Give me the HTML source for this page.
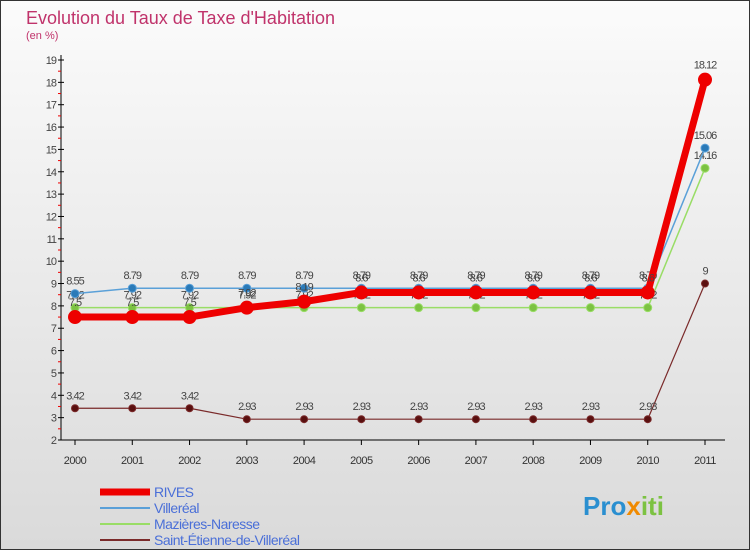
<!DOCTYPE html>
<html><head><meta charset="utf-8"><style>
body{margin:0;background:#fff}
svg{display:block;font-family:"Liberation Sans",sans-serif}
</style></head><body>
<svg width="750" height="550">
<defs><linearGradient id="bg" x1="0" y1="0" x2="0" y2="1"><stop offset="0" stop-color="#fbfbfb"/><stop offset="1" stop-color="#dadada"/></linearGradient></defs>
<rect x="0.5" y="0.5" width="749" height="549" fill="url(#bg)" stroke="#333"/>
<text x="26" y="24" font-size="18" fill="#c0336b">Evolution du Taux de Taxe d'Habitation</text>
<text x="26" y="39" font-size="11" fill="#c0336b">(en %)</text>
<g id="axes"></g><g id="series"></g><g id="legend"></g>
<text x="583" y="515" font-size="26" font-weight="bold" fill="#2a8fd0">Pro<tspan fill="#f08a00">x</tspan><tspan fill="#7cc242">iti</tspan></text>
</svg>
<script>
const years=[2000,2001,2002,2003,2004,2005,2006,2007,2008,2009,2010,2011];
const yTicks=[2,3,4,5,6,7,8,9,10,11,12,13,14,15,16,17,18,19];
const rives=[7.5,7.5,7.5,7.92,8.19,8.6,8.6,8.6,8.6,8.6,8.6,18.12];
const villereal=[8.55,8.79,8.79,8.79,8.79,8.79,8.79,8.79,8.79,8.79,8.79,15.06];
const mazieres=[7.92,7.92,7.92,7.92,7.92,7.92,7.92,7.92,7.92,7.92,7.92,14.16];
const stEtienne=[3.42,3.42,3.42,2.93,2.93,2.93,2.93,2.93,2.93,2.93,2.93,9];
const NS="http://www.w3.org/2000/svg";
const X=i=>75+i*(630/11);
const Y=v=>440-(v-2)*(380/17);
function mk(t,a,p){const e=document.createElementNS(NS,t);for(const k in a)e.setAttribute(k,a[k]);p.appendChild(e);return e;}
const ax=document.getElementById('axes');
let l=mk('line',{x1:61,y1:55,x2:61,y2:440,stroke:'#000'},ax);


l=mk('line',{x1:61,y1:440,x2:725,y2:440,stroke:'#000'},ax);


yTicks.forEach(v=>{
 mk('line',{x1:58,y1:Y(v),x2:64,y2:Y(v),stroke:'#000'},ax);
 if(v<19) mk('line',{x1:58,y1:Y(v+0.5),x2:61,y2:Y(v+0.5),stroke:'#e00'},ax);
 const t=mk('text',{x:56,y:Y(v)+4,'font-size':11,fill:'#444','text-anchor':'end','letter-spacing':'-1'},ax);
 t.textContent=v;
 
 
});
years.forEach((y,i)=>{
 mk('line',{x1:X(i),y1:440,x2:X(i),y2:445,stroke:'#000'},ax);
 const t=mk('text',{x:X(i),y:464,'font-size':11,fill:'#333','text-anchor':'middle','letter-spacing':'-0.5'},ax);
 t.textContent=y;
 
 
});
const sg=document.getElementById('series');
function series(data,color,w,r,name,ptFill,lblDy){
 const g=mk('g',{},sg);
 
 
 mk('polyline',{points:data.map((v,i)=>X(i)+','+Y(v)).join(' '),fill:'none',stroke:color,'stroke-width':w,'stroke-linejoin':'round'},g);
 data.forEach((v,i)=>{
  const c=mk('circle',{cx:X(i),cy:Y(v),r:r,fill:ptFill,stroke:color,'stroke-width':1},g);
  
  
  const t=mk('text',{x:X(i),y:Y(v)+lblDy,'font-size':11,fill:'#444','text-anchor':'middle','letter-spacing':'-1'},g);
  t.textContent=v;
  
  
 });
}
series(mazieres,'#99dd66',1.5,4,'mazieres-series','#7cc242',-9);
series(villereal,'#5aa0d8',1.5,4,'villereal-series','#2a7ab8',-9);
series(stEtienne,'#7a2a2a',1.2,3.5,'saint-etienne-series','#5a1010',-9);
series(rives,'#ee0000',7,6.5,'rives-series','#ee0000',-11);
const lg=document.getElementById('legend');
const items=[['RIVES','#ee0000',7],['Villeréal','#5aa0d8',2],['Mazières-Naresse','#99dd66',2],['Saint-Étienne-de-Villeréal','#7a2a2a',2]];
items.forEach((it,i)=>{
 const y=492+i*16;
 const g=mk('g',{},lg);
 
 
 mk('line',{x1:100,y1:y,x2:150,y2:y,stroke:it[1],'stroke-width':it[2]},g);
 const t=mk('text',{x:154,y:y+5,'font-size':14,fill:'#4a6fd8','letter-spacing':'-0.5'},g);
 t.textContent=it[0];
});
</script>
</body></html>
